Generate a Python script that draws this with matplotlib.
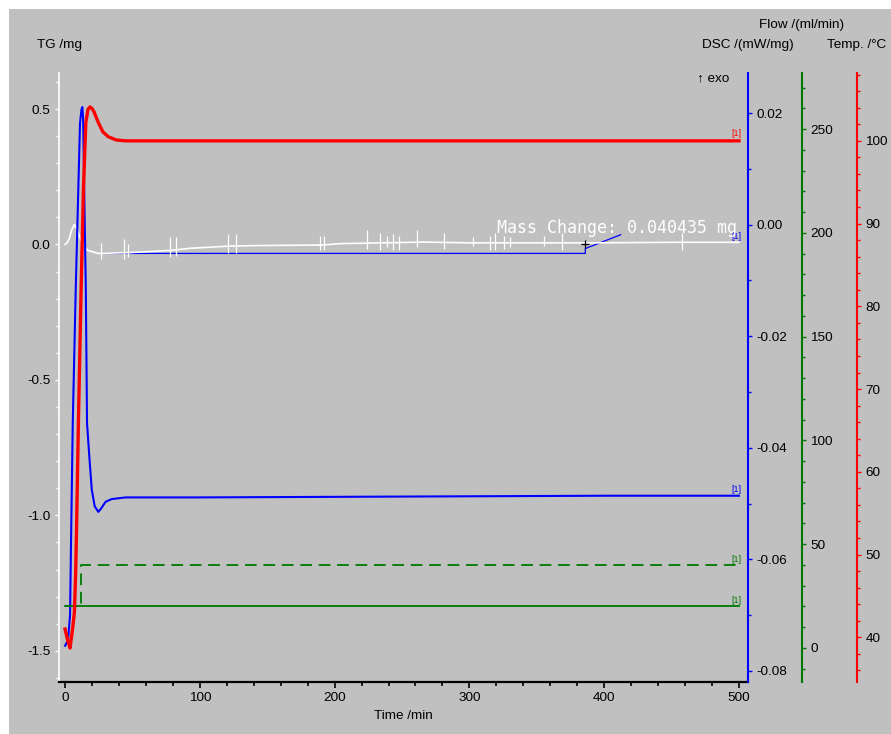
import matplotlib
matplotlib.use("Agg")
import matplotlib.pyplot as plt
from matplotlib.patches import Rectangle
from matplotlib.ticker import MultipleLocator, FormatStrFormatter

plt.rcParams["font.family"] = ["Liberation Sans", "DejaVu Sans"]
plt.rcParams["axes.unicode_minus"] = False

# --------------------------------------------------
# Measurement data (time in min)
# --------------------------------------------------

# DSC signal /(mW/mg)
time_dsc = [0, 2.2, 3.7, 4.45, 5.7, 7.9, 9.8, 11.1, 12.1, 12.8, 13.4, 14.2, 15.4,
            16.3, 18.0, 19.8, 22.0, 24.7, 27.0, 30.0, 34.6, 45, 100, 200, 300, 400, 500]
dsc = [-0.0755, -0.0745, -0.0700, -0.0565, -0.0356, -0.0117, 0.0062, 0.0182, 0.0205,
       0.0211, 0.0190, 0.0062, -0.0117, -0.0356, -0.0416, -0.0475, -0.0505, -0.0515,
       -0.0508, -0.0497, -0.0492, -0.0489, -0.0489, -0.0488, -0.0487, -0.0486, -0.0486]

# sample temperature /°C
time_temp = [0, 2, 3.7, 5.7, 6.9, 7.9, 8.5, 9.9, 11.9, 13.6, 15.4, 17, 18.5, 20,
             21.5, 24.7, 28, 32, 38, 45, 500]
temp = [41.0, 39.6, 38.7, 41.2, 43, 48, 53, 66, 82, 94, 102.2, 103.8, 104.1, 103.9,
        103.5, 102.2, 101.1, 100.5, 100.1, 100.0, 100.0]

# TG /mg
time_tg = [0, 1.5, 3, 5, 6.9, 8.5, 11, 13, 14.8, 17, 24.7, 48, 78, 93, 122, 142,
           191, 204, 267, 300, 390, 450, 500]
tg = [0.0, 0.006, 0.02, 0.055, 0.074, 0.06, 0.026, 0.005, -0.011, -0.022, -0.033,
      -0.030, -0.022, -0.014, -0.006, -0.004, -0.002, 0.003, 0.009, 0.006, 0.006,
      0.008, 0.008]

# short spikes on the TG trace
spike_t = [26.5, 44, 46.5, 78, 82.3, 121, 127, 189, 192, 224, 234, 239, 243.6, 248,
           261, 281, 303, 315, 319, 326, 330, 355, 369, 457.5]
spike_hi = [0.004, 0.019, 0.000, 0.027, 0.026, 0.037, 0.037, 0.033, 0.030, 0.052,
            0.041, 0.033, 0.037, 0.030, 0.052, 0.044, 0.026, 0.030, 0.044, 0.033,
            0.026, 0.030, 0.044, 0.044]
spike_lo = [-0.055, -0.052, -0.045, -0.047, -0.044, -0.030, -0.030, -0.022, -0.019,
            -0.015, -0.019, -0.011, -0.022, -0.019, -0.011, -0.015, -0.007, -0.019,
            -0.022, -0.015, -0.011, -0.007, -0.019, -0.019]

# mass change evaluation
step_t = [29, 386, 386, 412.2]
step_tg = [-0.033, -0.033, -0.015, 0.036]
step_mark = (385.8, 0.0026)
mass_change = 0.040435

# purge gas flows /(ml/min)
time_flow = [0, 500]
flow_protective = [20, 20]
time_flow2 = [0, 11.6, 11.6, 500]
flow_purge = [20, 20, 40, 40]

# --------------------------------------------------
# Figure
# --------------------------------------------------

W, H = 891, 734
fig = plt.figure(figsize=(W / 100, H / 100), dpi=100)
fig.patch.set_facecolor("white")
fig.add_artist(Rectangle((9 / W, 0), 1, 1 - 9 / H, transform=fig.transFigure,
                         facecolor="#c0c0c0", edgecolor="none", zorder=-10))

x0, x1, y0, y1 = 59, 748, 73, 682
ax = fig.add_axes([x0 / W, 1 - y1 / H, (x1 - x0) / W, (y1 - y0) / H])
ax.set_facecolor("none")

ax_dsc = ax.twinx()
ax_flow = ax.twinx()
ax_temp = ax.twinx()

fs = 9.7
green = "#007800"

# main axis (TG + time)
for s in ["top", "right"]:
    ax.spines[s].set_visible(False)
ax.spines["left"].set_color("white")
ax.spines["left"].set_linewidth(1.2)
ax.spines["bottom"].set_color("black")
ax.spines["bottom"].set_linewidth(1.6)
ax.set_xlim(-4.5, 506.7)
ax.set_ylim(-1.615, 0.633)
ax.xaxis.set_major_locator(MultipleLocator(100))
ax.xaxis.set_minor_locator(MultipleLocator(20))
ax.yaxis.set_major_locator(MultipleLocator(0.5))
ax.yaxis.set_minor_locator(MultipleLocator(0.1))
ax.yaxis.set_major_formatter(FormatStrFormatter("%.1f"))
ax.tick_params(axis="y", which="both", colors="white", labelcolor="black",
               labelsize=fs, width=1.0, pad=3)
ax.tick_params(axis="y", which="major", length=3)
ax.tick_params(axis="y", which="minor", length=2)
ax.tick_params(axis="x", which="both", colors="black", labelsize=fs, width=1.2, pad=3)
ax.tick_params(axis="x", which="major", length=4)
ax.tick_params(axis="x", which="minor", length=3)


def right_axis(a, color, pos, lim, major, minor, fmt):
    for s in ["top", "left", "bottom"]:
        a.spines[s].set_visible(False)
    a.spines["right"].set_position(("axes", pos))
    a.spines["right"].set_color(color)
    a.spines["right"].set_linewidth(1.5)
    a.set_ylim(*lim)
    a.yaxis.set_major_locator(MultipleLocator(major))
    a.yaxis.set_minor_locator(MultipleLocator(minor))
    a.yaxis.set_major_formatter(FormatStrFormatter(fmt))
    a.tick_params(axis="y", which="both", colors=color, labelcolor="black",
                  labelsize=fs, width=1.0, pad=3)
    a.tick_params(axis="y", which="major", length=3)
    a.tick_params(axis="y", which="minor", length=2)


span = x1 - x0
right_axis(ax_dsc, "#0000ff", 1.0, (-0.082, 0.0272), 0.02, 0.01, "%.2f")
right_axis(ax_flow, green, (802 - x0) / span, (-16.4, 277), 50, 10, "%d")
right_axis(ax_temp, "#ff0000", (857 - x0) / span, (34.6, 108.2), 10, 2, "%d")

# curves
ax.plot(step_t, step_tg, color="#0000ff", lw=0.9, zorder=2)
ax.plot(time_tg, tg, color="white", lw=1.2, zorder=3)
ax.vlines(spike_t, spike_lo, spike_hi, color="white", lw=0.9, zorder=3)
ax.plot(*step_mark, marker="+", color="black", ms=6, mew=0.9, zorder=4)
ax.text(320.5, 0.041, f"Mass Change: {mass_change:.6f} mg", color="white",
        family="DejaVu Sans Mono", fontsize=12, va="baseline", ha="left", zorder=5)
ax.annotate("[1]", (498, 0.008), xytext=(0, 1), textcoords="offset points",
            color="#0000ff", fontsize=6.5, ha="center", va="bottom")

ax_flow.plot(time_flow, flow_protective, color=green, lw=1.3)
ax_flow.plot(time_flow2, flow_purge, color=green, lw=1.3, ls=(0, (6.5, 3.7)))
for v in (flow_protective[-1], flow_purge[-1]):
    ax_flow.annotate("[1]", (498, v), xytext=(0, 1), textcoords="offset points",
                     color=green, fontsize=6.5, ha="center", va="bottom")

ax_dsc.plot(time_dsc, dsc, color="#0000ff", lw=1.5)
ax_dsc.annotate("[1]", (498, dsc[-1]), xytext=(0, 1), textcoords="offset points",
                color="#0000ff", fontsize=6.5, ha="center", va="bottom")

ax_temp.plot(time_temp, temp, color="#ff0000", lw=2.4)
ax_temp.annotate("[1]", (498, temp[-1]), xytext=(0, 2), textcoords="offset points",
                 color="#ff0000", fontsize=6.5, ha="center", va="bottom")

# axis titles
def label(x, y, s, **kw):
    fig.text(x / W, 1 - y / H, s, fontsize=fs, ha="center", va="center", **kw)


label(59.5, 45, "TG /mg")
label(748, 45, "DSC /(mW/mg)")
label(802, 25, "Flow /(ml/min)")
label(857, 45, "Temp. /°C")
label(713, 78, "↑ exo")
label(403.5, 716, "Time /min")

fig.savefig("out.png", dpi=100, facecolor=fig.get_facecolor())
